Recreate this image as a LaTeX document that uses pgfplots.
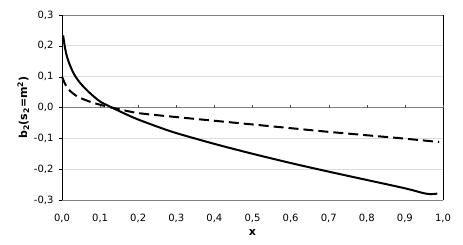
\documentclass[border=0pt]{standalone}
\usepackage{pgfplots}
\pgfplotsset{compat=1.18}
\usepackage{fontspec}
\setmainfont{DejaVu Sans}
\definecolor{framegray}{HTML}{808080}
\definecolor{gridgray}{HTML}{DDDDDD}
\begin{document}
\fontsize{10}{12}\selectfont
\begin{tikzpicture}
\begin{axis}[
  scale only axis,
  width=381pt, height=185pt,
  xmin=0, xmax=1, ymin=-0.3, ymax=0.3,
  xtick={0,0.1,...,1.0},
  ytick={-0.3,-0.2,...,0.3},
  axis line style={framegray},
  separate axis lines,
  y axis line style={black},
  tick style={black},
  xtick style={draw=none},
  ytick pos=left,
  tick align=outside,
  major tick length=3pt,
  ymajorgrids,
  grid style={gridgray, line width=0.8pt},
  /pgf/number format/.cd, use comma, fixed, fixed zerofill, precision=1, assume math mode=true,
  /pgfplots/.cd,
  xticklabel style={yshift=-8pt},
  yticklabel style={xshift=-2pt},
  tick label style={font=\fontsize{10}{12}\selectfont},
  xlabel={\textbf{x}},
  ylabel={\textbf{b\textsubscript{2}(s\textsubscript{2}=m\textsuperscript{2})}},
  label style={font=\fontsize{11}{13}\selectfont},
  xlabel style={yshift=1pt},
  ylabel style={yshift=-2pt},
  clip=false,
]
\draw[framegray, line width=0.8pt] (axis cs:0,0) -- (axis cs:1,0);
\pgfplotsinvokeforeach{0.1,0.2,0.3,0.4,0.5,0.6,0.7,0.8,0.9,1.0}{
  \draw[black!70] (axis cs:#1,0) -- ([yshift=3pt]axis cs:#1,0);
}
\draw[black] (axis cs:0,-0.3) -- (axis cs:0,0.3);
\addplot[black, line width=2pt, smooth, tension=0.5] coordinates {
(0.003,0.234) (0.007,0.200) (0.012,0.170) (0.02,0.140) (0.03,0.112) (0.04,0.092) (0.05,0.076) (0.068,0.053)
(0.085,0.034) (0.103,0.017) (0.134,-0.002) (0.17,-0.023) (0.2,-0.039)
(0.25,-0.062) (0.3,-0.083) (0.4,-0.118) (0.5,-0.150) (0.6,-0.180)
(0.7,-0.208) (0.8,-0.235) (0.9,-0.262) (0.95,-0.278) (0.97,-0.281) (0.985,-0.279)
};
\addplot[black, line width=2pt, dash pattern=on 10pt off 5pt, smooth, tension=0.5] coordinates {
(0.0,0.10) (0.005,0.085) (0.01,0.072) (0.02,0.055) (0.04,0.036) (0.06,0.025)
(0.08,0.016) (0.103,0.008) (0.137,-0.002) (0.2,-0.018) (0.3,-0.031)
(0.4,-0.043) (0.5,-0.055) (0.6,-0.067) (0.7,-0.079) (0.8,-0.090)
(0.9,-0.101) (0.99,-0.112)
};
\end{axis}
\pgfresetboundingbox
\path (current axis.south west) ++(-62pt,-44pt) rectangle ++(463pt,244pt);
\end{tikzpicture}
\end{document}
